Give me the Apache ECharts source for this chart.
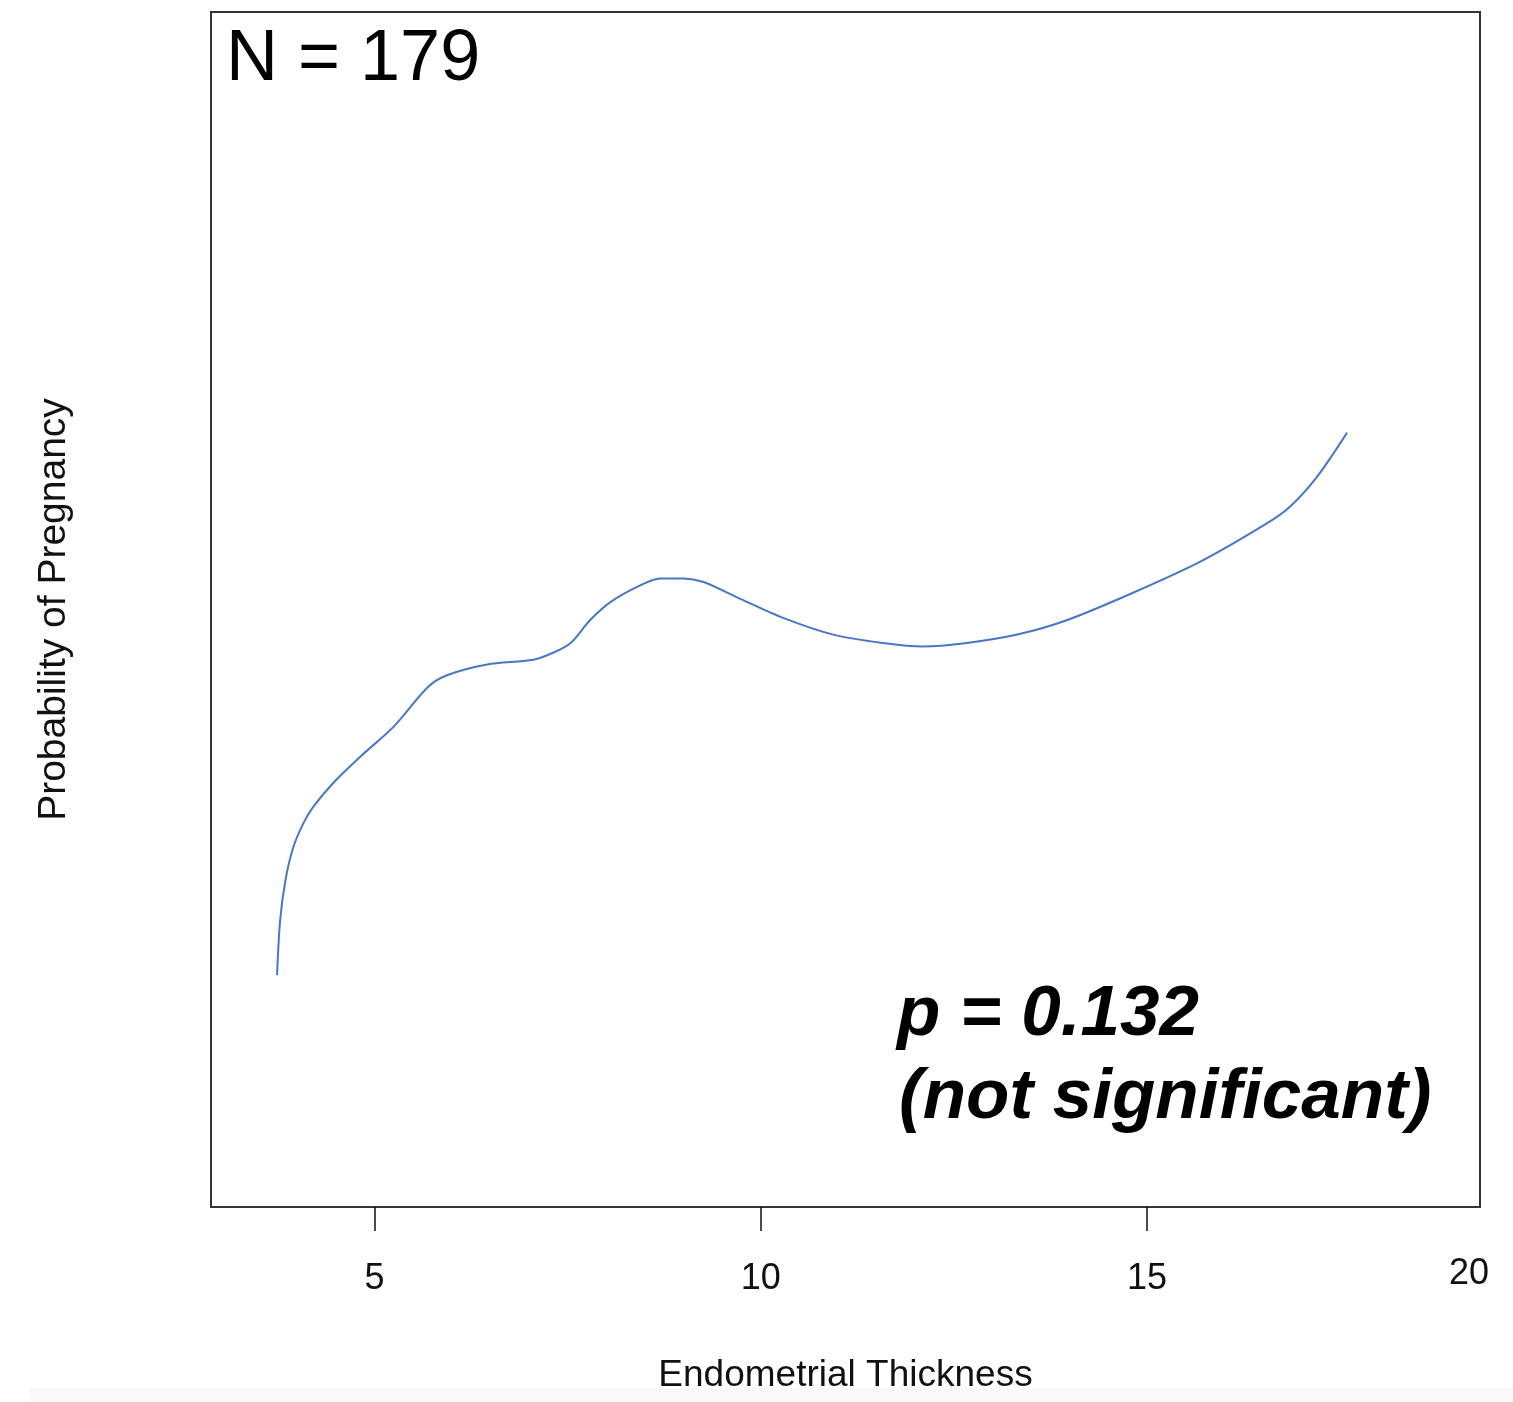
<!DOCTYPE html>
<html>
<head>
<meta charset="utf-8">
<script src="https://cdn.jsdelivr.net/npm/echarts@6/dist/echarts.min.js"></script>
<style>
  html, body { margin: 0; padding: 0; background: #fff; }
  #main { width: 1513px; height: 1402px; }
</style>
</head>
<body>
<div id="main"></div>
<script>
// 曲线数据: 内膜厚度 -> 妊娠概率 (y 轴无刻度, 按框内 0-100 读数)
var thickness = [3.74, 3.78, 3.85, 3.95, 4.08, 4.21, 4.47, 4.82, 5.25, 5.69, 5.94, 6.46, 7.06, 7.32, 7.54, 7.79,
                 8.05, 8.40, 8.70, 9.00, 9.26, 9.70, 10.29, 10.94, 11.58, 12.10, 12.67, 13.32, 13.96, 14.82,
                 15.69, 16.55, 16.85, 17.20, 17.59];
var probability = [19.4, 24.0, 27.4, 30.1, 32.1, 33.5, 35.5, 37.7, 40.2, 43.5, 44.5, 45.4, 45.8, 46.4, 47.2, 49.1,
                   50.6, 51.9, 52.6, 52.6, 52.3, 51.0, 49.3, 47.9, 47.2, 46.9, 47.2, 47.9, 49.1, 51.4,
                   54.0, 57.2, 58.6, 61.1, 64.8];
var xTicks = [5, 10, 15];

var font = '"Liberation Sans", Arial, sans-serif';

var seriesData = thickness.map(function (x, i) {
    return [x, probability[i]];
});

var chart = echarts.init(document.getElementById('main'));
var option = {
    animation: false,
    backgroundColor: '#fff',
    grid: {
        left: 211,
        top: 12,
        width: 1269,
        height: 1195,
        show: true,
        borderColor: '#333',
        borderWidth: 2,
        backgroundColor: 'transparent'
    },
    xAxis: {
        type: 'value',
        min: 2.885,
        max: 19.31,
        name: 'Endometrial Thickness',
        nameLocation: 'middle',
        nameGap: 150,
        nameTextStyle: { fontFamily: font, fontSize: 37, color: '#111' },
        axisLine: { show: true, lineStyle: { color: '#333', width: 2 } },
        axisTick: {
            show: true,
            length: 24,
            customValues: xTicks,
            lineStyle: { color: '#111', width: 1.5 }
        },
        axisLabel: {
            customValues: xTicks,
            margin: 54,
            fontFamily: font,
            fontSize: 36,
            color: '#111'
        },
        splitLine: { show: false }
    },
    yAxis: {
        type: 'value',
        min: 0,
        max: 100,
        name: 'Probability of Pregnancy',
        nameLocation: 'middle',
        nameGap: 137,
        nameTextStyle: { fontFamily: font, fontSize: 39, color: '#111' },
        axisLine: { show: false },
        axisTick: { show: false },
        axisLabel: { show: false },
        splitLine: { show: false }
    },
    series: [{
        type: 'line',
        data: seriesData,
        smooth: 0.3,
        showSymbol: false,
        lineStyle: { color: '#4a77c5', width: 2 }
    }],
    graphic: [
        {
            type: 'rect',
            z: -10,
            shape: { x: 30, y: 1388, width: 1483, height: 14 },
            style: { fill: '#f9f9f9' }
        },
        {
            type: 'text',
            left: 226,
            top: 24,
            style: { text: 'N = 179', fontFamily: font, fontSize: 72, fill: '#000' }
        },
        {
            type: 'text',
            left: 897,
            top: 980,
            style: { text: 'p = 0.132', fontFamily: font, fontSize: 71, fontWeight: 'bold', fontStyle: 'italic', fill: '#000' }
        },
        {
            type: 'text',
            left: 899,
            top: 1063,
            style: { text: '(not significant)', fontFamily: font, fontSize: 71, fontWeight: 'bold', fontStyle: 'italic', fill: '#000' }
        },
        {
            type: 'text',
            left: 1449,
            top: 1256,
            style: { text: '20', fontFamily: font, fontSize: 36, fill: '#111' }
        }
    ]
};
chart.setOption(option);
window.addEventListener('resize', function () {
    chart.resize();
});
</script>
</body>
</html>
